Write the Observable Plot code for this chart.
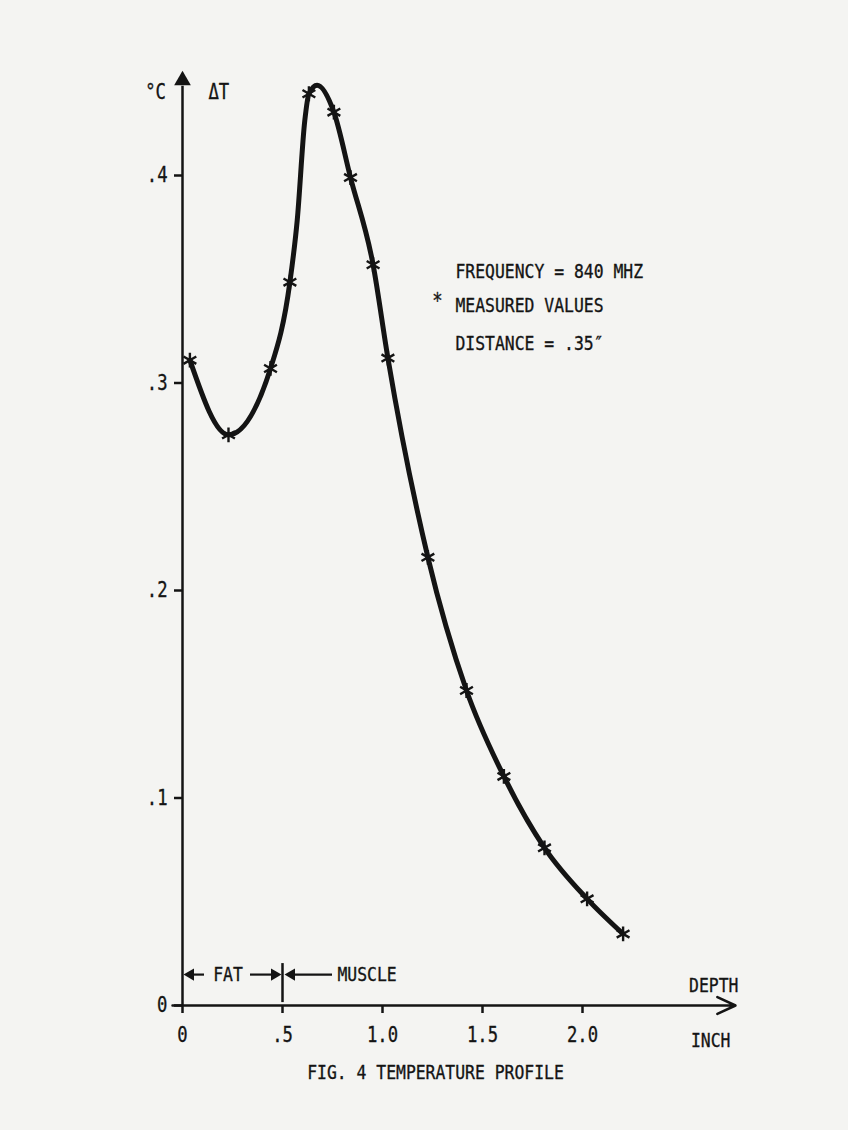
<!DOCTYPE html>
<html><head><meta charset="utf-8">
<script src="https://cdn.jsdelivr.net/npm/d3@7"></script>
<script src="https://cdn.jsdelivr.net/npm/@observablehq/plot@0.6"></script>
<style>
html,body{margin:0;padding:0;background:#f4f4f2;}
</style></head><body><div id="chart"></div>
<script>
// Measured values (depth in inches, ΔT in °C)
const depth  = [0.037, 0.23, 0.44, 0.537, 0.632, 0.757, 0.84, 0.953, 1.027, 1.227, 1.42, 1.607, 1.81, 2.023, 2.203];
const deltaT = [0.311, 0.275, 0.307, 0.3486, 0.4394, 0.4305, 0.399, 0.357, 0.312, 0.216, 0.1518, 0.1104, 0.076, 0.0514, 0.0345];
// Drawn (hand-faired) curve
const curveDepth = [0.037, 0.23, 0.44, 0.537, 0.5735, 0.6115, 0.632, 0.673, 0.757, 0.84, 0.953, 1.027, 1.227, 1.42, 1.607, 1.81, 2.023, 2.203];
const curveDT    = [0.311, 0.275, 0.307, 0.3486, 0.3783, 0.4265, 0.4394, 0.4435, 0.4305, 0.399, 0.357, 0.312, 0.216, 0.1518, 0.1104, 0.076, 0.0514, 0.0345];
const yTicks = [0, 0.1, 0.2, 0.3, 0.4];
const yTickLabels = ["0", ".1", ".2", ".3", ".4"];
const xTicks = [0, 0.5, 1.0, 1.5, 2.0];
const xTickLabels = ["0", ".5", "1.0", "1.5", "2.0"];
const legendLines = ["FREQUENCY = 840 MHZ", "MEASURED VALUES", "DISTANCE = .35\u2033"];
const regionLabels = ["FAT", "MUSCLE"];
const yUnit = "°C", yName = "ΔT", xName = "DEPTH", xUnit = "INCH";
const title = "FIG. 4 TEMPERATURE PROFILE";

const FONT = '"DejaVu Sans Mono", "Liberation Mono", monospace';
const INK = "#141414";
const SQUEEZE = 0.82; // lettering-guide look: narrow glyphs
const points = depth.map((d, i) => ({depth: d, dT: deltaT[i]}));
const curvePts = curveDepth.map((d, i) => ({depth: d, dT: curveDT[i]}));
const T = (opts) => Object.assign({fill: INK, fontSize: 20, fontFamily: FONT, text: d => d}, opts);

const chart = Plot.plot({
  width: 848, height: 1130,
  marginLeft: 182, marginRight: 113, marginTop: 70, marginBottom: 125,
  x: {domain: [0, 2.765]},
  y: {domain: [0, 0.4506]},
  style: {fontFamily: FONT, fontSize: "20px", background: "#f4f4f2", color: INK},
  marks: [
    // axes
    Plot.ruleX([0], {y1: 0, y2: 0.443, stroke: INK, strokeWidth: 2.5}),
    Plot.dot([0], {x: 0, y: 0.4458, symbol: "triangle", r: 6.2, fill: INK, stroke: "none"}),
    Plot.arrow([0], {x1: -0.05, x2: 2.765, y1: 0, y2: 0, stroke: INK, strokeWidth: 2.5, headLength: 12, headAngle: 50}),
    Plot.axisY(yTicks, {tickFormat: d => yTickLabels[yTicks.indexOf(d)], tickSize: 8, tickPadding: 7, fontSize: 21, fontFamily: FONT, stroke: INK, strokeWidth: 2.5, label: null}),
    Plot.axisX(xTicks, {tickFormat: d => xTickLabels[xTicks.indexOf(d)], tickSize: 8, tickPadding: 14, fontSize: 21, fontFamily: FONT, stroke: INK, strokeWidth: 2.5, label: null}),
    Plot.text([yUnit], T({x: -0.135, y: 0.44, fontSize: 21})),
    Plot.text([yName], T({x: 0.13, y: 0.44, textAnchor: "start", fontSize: 21})),
    Plot.text([xName], T({x: 2.78, y: 0.0096, textAnchor: "end"})),
    Plot.text([xUnit], T({x: 2.74, y: -0.0169, textAnchor: "end"})),
    Plot.text([title], T({x: 1.265, y: -0.0323})),
    // fat / muscle annotation
    Plot.ruleX([0.5], {y1: 0.0014, y2: 0.0202, stroke: INK, strokeWidth: 2.5}),
    Plot.ruleY([0], {x1: 0.02, x2: 0.11, y: 0.0149, stroke: INK, strokeWidth: 2.2}),
    Plot.ruleY([0], {x1: 0.34, x2: 0.47, y: 0.0149, stroke: INK, strokeWidth: 2.2}),
    Plot.ruleY([0], {x1: 0.53, x2: 0.75, y: 0.0149, stroke: INK, strokeWidth: 2.2}),
    Plot.dot([0], {x: 0.04, y: 0.0149, symbol: "triangle", rotate: -90, r: 4.5, fill: INK, stroke: "none"}),
    Plot.dot([0], {x: 0.46, y: 0.0149, symbol: "triangle", rotate: 90, r: 4.5, fill: INK, stroke: "none"}),
    Plot.dot([0], {x: 0.545, y: 0.0149, symbol: "triangle", rotate: -90, r: 4.5, fill: INK, stroke: "none"}),
    Plot.text([regionLabels[0]], T({x: 0.2275, y: 0.0149})),
    Plot.text([regionLabels[1]], T({x: 0.775, y: 0.0149, textAnchor: "start"})),
    // legend
    Plot.text(legendLines, T({x: 1.365, y: [0.3537, 0.3373, 0.319], textAnchor: "start"})),
    Plot.text(["*"], T({x: 1.275, y: 0.3395, fontSize: 21})),
    // data
    Plot.line(curvePts, {x: "depth", y: "dT", curve: "monotone-x", stroke: INK, strokeWidth: 5}),
    Plot.dot(points, {x: "depth", y: "dT", symbol: "asterisk", r: 7, stroke: INK, strokeWidth: 2.4})
  ]
});
document.getElementById("chart").appendChild(chart);
// narrow and slightly embolden the lettering
chart.querySelectorAll("text").forEach(el => {
  el.setAttribute("stroke", INK);
  el.setAttribute("stroke-width", "0.35");
  el.setAttribute("fill", INK);
  const targets = el.querySelectorAll("tspan").length ? el.querySelectorAll("tspan") : [el];
  targets.forEach(t => {
    const L = t.getComputedTextLength();
    if (L > 0) {
      t.setAttribute("textLength", (L * SQUEEZE).toFixed(2));
      t.setAttribute("lengthAdjust", "spacingAndGlyphs");
    }
  });
});
</script>
</body></html>
